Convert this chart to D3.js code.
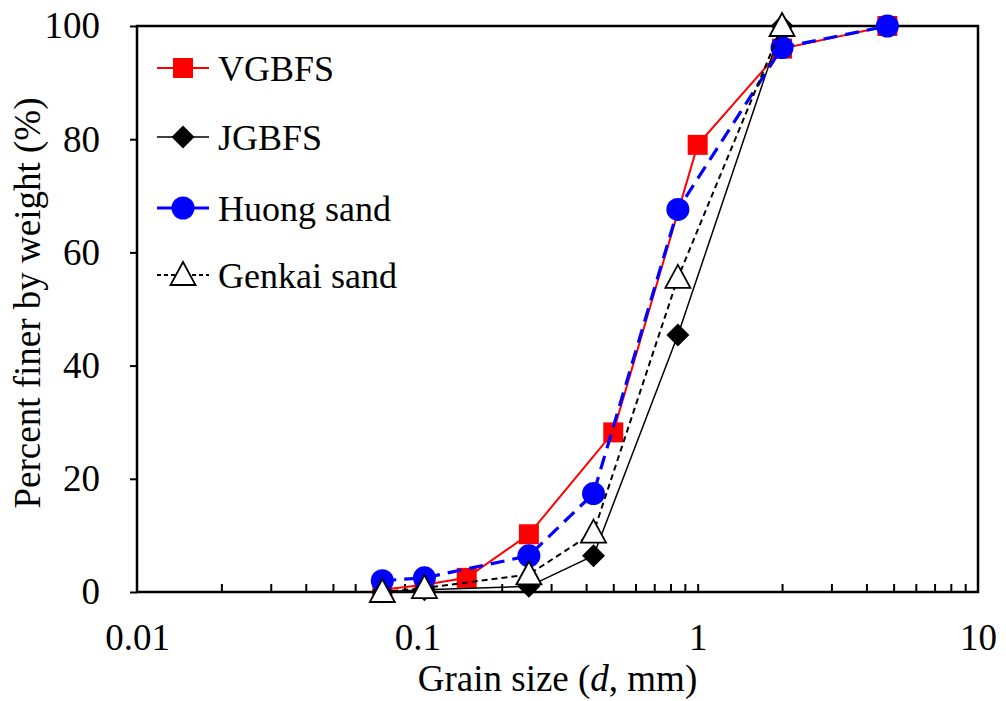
<!DOCTYPE html>
<html>
<head>
<meta charset="utf-8">
<script src="https://cdn.jsdelivr.net/npm/d3@7"></script>
<style>
  body { margin: 0; background: #fff; }
</style>
</head>
<body>
<div id="chart"></div>
<script>
// -------- Data --------
const vgbfsSize = [0.075, 0.106, 0.15, 0.25, 0.5, 1.0, 2.0, 4.75];
const vgbfsPct  = [0.4, 1.3, 2.5, 10.2, 28.2, 79.0, 96.0, 100];

const jgbfsSize = [0.075, 0.106, 0.25, 0.425, 0.85, 2.0];
const jgbfsPct  = [0, 0.4, 1.0, 6.4, 45.4, 100];

const huongSize = [0.075, 0.106, 0.25, 0.425, 0.85, 2.0, 4.75];
const huongPct  = [2.0, 2.5, 6.4, 17.4, 67.6, 96.2, 100];

const genkaiSize = [0.075, 0.106, 0.25, 0.425, 0.85, 2.0];
const genkaiPct  = [0, 0.7, 3.1, 10.5, 55.5, 100];

const xTickLabels = [0.01, 0.1, 1, 10];
const yTickValues = [0, 20, 40, 60, 80, 100];

const series = [
  { name: "VGBFS", x: vgbfsSize, y: vgbfsPct, color: "#ff0000", width: 2, dash: null, marker: "square" },
  { name: "JGBFS", x: jgbfsSize, y: jgbfsPct, color: "#000", width: 1.5, dash: null, marker: "diamond" },
  { name: "Huong sand", x: huongSize, y: huongPct, color: "#0000ff", width: 3.2, dash: "14,8", marker: "circle" },
  { name: "Genkai sand", x: genkaiSize, y: genkaiPct, color: "#000", width: 2, dash: "6,4", marker: "triangle" }
];

const FONT = '"Liberation Serif"';

// -------- Layout --------
const width = 1006, height = 701;
const margin = { left: 137, right: 28, top: 26, bottom: 110 };

const svg = d3.select("#chart").append("svg")
  .attr("width", width).attr("height", height);

const x = d3.scaleLog().domain([0.01, 10]).range([margin.left, width - margin.right]);
const y = d3.scaleLinear().domain([0, 100]).range([height - margin.bottom + 1, margin.top]);

// minor log ticks (inside, pointing up)
const logTicks = [];
[0.01, 0.1, 1].forEach(d => { for (let k = 1; k <= 9; k++) logTicks.push(d * k); });

svg.append("g")
  .attr("transform", `translate(0,${y(0)})`)
  .call(d3.axisTop(x).tickValues(logTicks.filter(v => v > 0.01)).tickSize(8).tickFormat(""))
  .call(g => g.select(".domain").remove())
  .call(g => g.selectAll("line").attr("stroke", "#000").attr("stroke-width", 2));

// x tick labels
svg.append("g")
  .attr("transform", `translate(0,${y(0)})`)
  .call(d3.axisBottom(x).tickValues(xTickLabels).tickSize(0).tickPadding(32).tickFormat(d => String(d)))
  .call(g => g.select(".domain").remove())
  .attr("font-family", null).attr("font-size", null)
  .call(g => g.selectAll("text").style("font-size", "37px").style("font-family", FONT).attr("fill", "#000"));

// y axis (ticks outward)
svg.append("g")
  .attr("transform", `translate(${margin.left},0)`)
  .call(d3.axisLeft(y).tickValues(yTickValues).tickSize(7).tickPadding(30))
  .call(g => g.select(".domain").remove())
  .attr("font-family", null).attr("font-size", null)
  .call(g => g.selectAll("line").attr("stroke", "#000").attr("stroke-width", 2))
  .call(g => g.selectAll("text").style("font-size", "37px").style("font-family", FONT).attr("fill", "#000"));

// frame
svg.append("rect")
  .attr("x", x(0.01)).attr("y", y(100))
  .attr("width", x(10) - x(0.01)).attr("height", y(0) - y(100))
  .attr("fill", "none").attr("stroke", "#000").attr("stroke-width", 2.5);

// axis titles
const xt = svg.append("text")
  .attr("x", (x(0.01) + x(10)) / 2).attr("y", 691)
  .attr("text-anchor", "middle").style("font-size", "37px").style("font-family", FONT);
xt.append("tspan").text("Grain size (");
xt.append("tspan").attr("font-style", "italic").text("d");
xt.append("tspan").text(", mm)");

svg.append("text")
  .attr("transform", "translate(40,303) rotate(-90)")
  .attr("text-anchor", "middle").style("font-size", "37px").style("font-family", FONT)
  .text("Percent finer by weight (%)");

// -------- Markers --------
function drawMarker(sel, s) {
  if (s.marker === "square") {
    sel.append("rect").attr("x", -10).attr("y", -10).attr("width", 20).attr("height", 20)
      .attr("fill", s.color);
  } else if (s.marker === "diamond") {
    sel.append("path").attr("d", "M0,-11.5L11.5,0L0,11.5L-11.5,0Z").attr("fill", "#000");
  } else if (s.marker === "circle") {
    sel.append("circle").attr("r", 11.5).attr("fill", s.color);
  } else {
    sel.append("path").attr("d", "M0,-13L12.5,10L-12.5,10Z")
      .attr("fill", "#fff").attr("stroke", "#000").attr("stroke-width", 1.8);
  }
}

const line = d3.line().x(d => x(d[0])).y(d => y(d[1]));

series.forEach(s => {
  const pts = s.x.map((v, i) => [v, s.y[i]]);
  const g = svg.append("g");
  g.append("path").datum(pts)
    .attr("d", line)
    .attr("fill", "none")
    .attr("stroke", s.color)
    .attr("stroke-width", s.width)
    .attr("stroke-dasharray", s.dash);
  g.selectAll(".m").data(pts).join("g")
    .attr("class", "m")
    .attr("transform", d => `translate(${x(d[0])},${y(d[1])})`)
    .each(function () { drawMarker(d3.select(this), s); });
});

// -------- Legend --------
const legendY = [68, 137, 208, 275];
series.forEach((s, i) => {
  const g = svg.append("g").attr("transform", `translate(157,${legendY[i]})`);
  g.append("line").attr("x1", 0).attr("x2", 52)
    .attr("stroke", s.color).attr("stroke-width", s.width)
    .attr("stroke-dasharray", s.marker === "triangle" ? "4,3" : null);
  drawMarker(g.append("g").attr("transform", "translate(26,0)"), s);
  g.append("text").attr("x", 61).attr("y", 0).attr("dy", "0.35em")
    .style("font-size", "36px").style("font-family", FONT).text(s.name);
});
</script>
</body>
</html>
